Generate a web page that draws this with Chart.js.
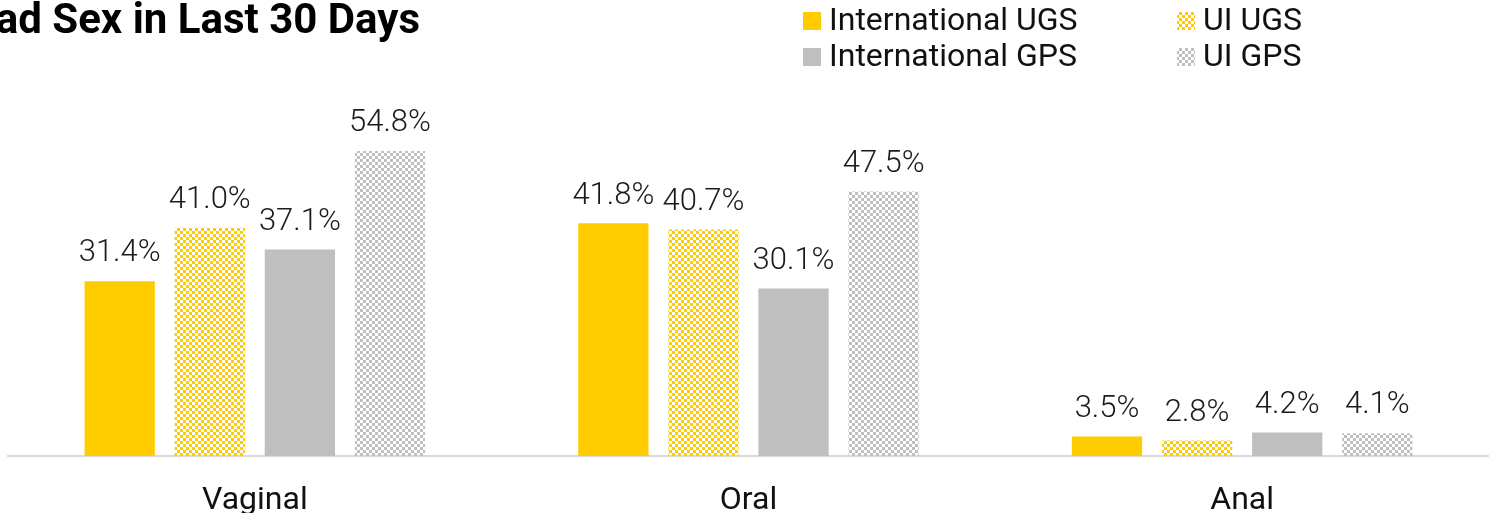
<!DOCTYPE html>
<html>
<head>
<meta charset="utf-8">
<script src="https://cdn.jsdelivr.net/npm/chart.js@4"></script>
<style>
  html, body { margin: 0; padding: 0; background: #ffffff; }
  #wrap { width: 1489px; height: 513px; }
</style>
</head>
<body>
<div id="wrap"><canvas id="chart"></canvas></div>
<script>
const categories = ['Vaginal', 'Oral', 'Anal'];
const seriesNames = ['International UGS', 'UI UGS', 'International GPS', 'UI GPS'];
const intlUgs = [31.4, 41.8, 3.5];
const uiUgs = [41.0, 40.7, 2.8];
const intlGps = [37.1, 30.1, 4.2];
const uiGps = [54.8, 47.5, 4.1];
const titleText = 'Had Sex in Last 30 Days';

const YELLOW = '#ffcc00';
const GREY = '#bfbfbf';

// checker tile used for the "UI" bars
function makePattern(color) {
    const c = document.createElement('canvas');
    c.width = 6;
    c.height = 6;
    const g = c.getContext('2d');
    g.fillStyle = color;
    g.fillRect(0, 0, 6, 6);
    g.clearRect(0, 0, 3, 3);
    g.clearRect(3, 3, 3, 3);
    return g.createPattern(c, 'repeat');
}

const fills = [YELLOW, makePattern(YELLOW), GREY, makePattern(GREY)];
const values = [intlUgs, uiUgs, intlGps, uiGps];

const extras = {
    id: 'extras',
    afterDatasetsDraw(chart) {
        const ctx = chart.ctx;
        ctx.save();
        // value labels
        ctx.fillStyle = '#1a1a1a';
        ctx.font = '300 31px Roboto';
        ctx.textAlign = 'center';
        ctx.textBaseline = 'bottom';
        chart.data.datasets.forEach((ds, i) => {
            chart.getDatasetMeta(i).data.forEach((bar, j) => {
                ctx.fillText(ds.data[j].toFixed(1) + '%', bar.x, bar.y - 12);
            });
        });
        // title, cut off at the left edge
        ctx.fillStyle = '#000';
        ctx.font = 'bold 42px Roboto';
        ctx.textAlign = 'right';
        ctx.textBaseline = 'alphabetic';
        ctx.fillText(titleText, 420, 33);
        // legend in two columns
        const cols = [803, 1177];
        const rows = [21, 57];
        ctx.font = '32px Roboto';
        ctx.textAlign = 'left';
        ctx.textBaseline = 'middle';
        seriesNames.forEach((name, i) => {
            const x = cols[i % 2];
            const y = rows[i < 2 ? 0 : 1];
            ctx.fillStyle = fills[i];
            ctx.fillRect(x, y - 9, 18, 18);
            ctx.fillStyle = '#111';
            ctx.fillText(name, x + 26, y + 1);
        });
        ctx.restore();
    }
};

new Chart(document.getElementById('chart'), {
    type: 'bar',
    data: {
        labels: categories,
        datasets: seriesNames.map((name, i) => ({
            label: name,
            data: values[i],
            backgroundColor: fills[i],
            categoryPercentage: 0.73,
            barPercentage: 0.78
        }))
    },
    options: {
        responsive: true,
        maintainAspectRatio: false,
        animation: false,
        layout: { padding: { top: 122, left: 8, right: 0, bottom: 0 } },
        plugins: {
            legend: { display: false },
            tooltip: { enabled: false }
        },
        scales: {
            x: {
                grid: { display: false },
                border: { display: true, color: '#d9d9d9', width: 2 },
                ticks: {
                    color: '#111',
                    padding: 18,
                    font: { family: 'Roboto', size: 32 }
                },
                afterFit: axis => { axis.height = 57; }
            },
            y: {
                display: false,
                min: 0,
                max: 60
            }
        }
    },
    plugins: [extras]
});
</script>
</body>
</html>
